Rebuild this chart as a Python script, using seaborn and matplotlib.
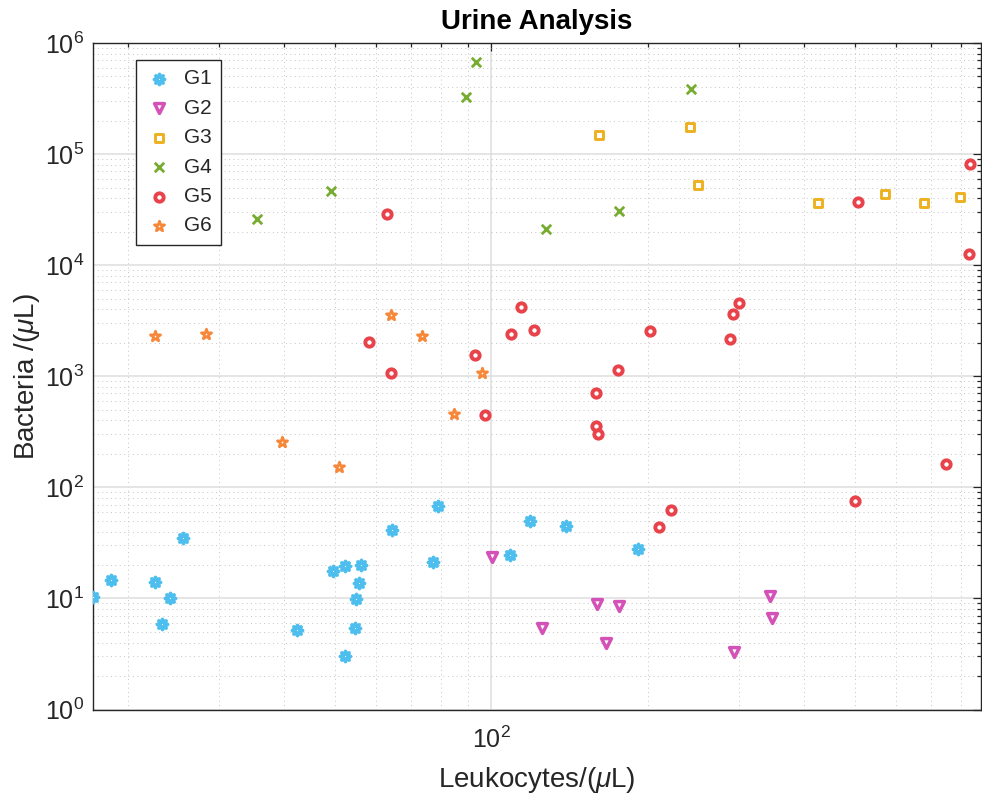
import numpy as np
import pandas as pd
import matplotlib
matplotlib.use("Agg")
import matplotlib.pyplot as plt
import seaborn as sns
from matplotlib.ticker import LogLocator, NullFormatter, LogFormatterSciNotation, FixedLocator

# Leukocyte / bacteria counts per group (cells per microlitre)
g1_leuk = [17.1, 18.6, 22.6, 24.1, 23.3, 25.5, 42.2, 49.5, 52.2, 56.1, 55.7,
           55.0, 54.6, 52.2, 64.5, 77.1, 79.0, 108.6, 118.7, 139.2, 191.4]
g1_bact = [10.2, 14.6, 14.1, 10.1, 5.85, 35.0, 5.16, 17.8, 19.7, 20.0, 13.7,
           9.8, 5.4, 3.0, 41.3, 21.4, 68.4, 24.4, 50.1, 44.9, 28.0]

g2_leuk = [100.2, 125.2, 159.9, 176.2, 166.0, 292.9, 343.0, 346.8]
g2_bact = [23.5, 5.45, 8.9, 8.55, 3.95, 3.3, 10.6, 6.6]

g3_leuk = [161.3, 240.7, 249.7, 424.4, 570.2, 680.4, 797.8]
g3_bact = [147600, 174000, 53100, 36100, 43700, 36100, 41400]

g4_leuk = [35.4, 49.2, 89.4, 93.6, 127.4, 176.2, 242.5]
g4_bact = [25900, 46500, 326700, 670000, 21300, 30500, 388000]

g5_leuk = [63.0, 58.1, 64.0, 93.0, 97.1, 109.3, 113.9, 120.8, 159.2, 159.2,
           160.2, 175.3, 201.8, 210.4, 221.3, 287.4, 291.2, 299.8, 501.0,
           506.5, 748.0, 828.5, 831.8]
g5_bact = [29100, 2030, 1077, 1553, 445, 2400, 4180, 2610, 711, 359,
           300, 1138, 2540, 43.7, 62.5, 2165, 3610, 4540, 75.9,
           36800, 161, 12530, 82000]

g6_leuk = [22.6, 28.3, 39.5, 51.0, 64.0, 73.6, 84.9, 96.1]
g6_bact = [2290, 2420, 258, 153, 3560, 2290, 460, 1077]

groups = ["G1", "G2", "G3", "G4", "G5", "G6"]
leuk = [g1_leuk, g2_leuk, g3_leuk, g4_leuk, g5_leuk, g6_leuk]
bact = [g1_bact, g2_bact, g3_bact, g4_bact, g5_bact, g6_bact]

df = pd.concat(
    [pd.DataFrame({"group": g, "Leukocytes": x, "Bacteria": y})
     for g, x, y in zip(groups, leuk, bact)],
    ignore_index=True,
)

colors = {"G1": "#4DBEEE", "G2": "#D452B8", "G3": "#EDB120",
          "G4": "#77AC30", "G5": "#E8434B", "G6": "#F7883A"}
styles = {
    "G1": dict(marker=(8, 1, 0), s=55, linewidth=2.6),
    "G2": dict(marker="v", s=50, linewidth=2.5),
    "G3": dict(marker="s", s=28, linewidth=2.1),
    "G4": dict(marker="x", s=46, linewidth=2.0),
    "G5": dict(marker="o", s=36, linewidth=2.8),
    "G6": dict(marker="*", s=60, linewidth=1.9),
}

sns.set_theme(style="white")
plt.rcParams["font.family"] = ["Liberation Sans", "DejaVu Sans"]
plt.rcParams["mathtext.fontset"] = "custom"
plt.rcParams["mathtext.rm"] = "Liberation Sans"
plt.rcParams["mathtext.it"] = "Liberation Sans:italic"
plt.rcParams["axes.unicode_minus"] = False

fig = plt.figure(figsize=(9.82, 7.98), dpi=100)
W, H = 982, 798
left, right, top, bottom = 92.5, 981, 43, 709.5
ax = fig.add_axes([left / W, (H - bottom) / H, (right - left) / W, (bottom - top) / H])

for g in groups:
    sub = df[df["group"] == g]
    st = styles[g]
    if g == "G4":
        sns.scatterplot(data=sub, x="Leukocytes", y="Bacteria", ax=ax,
                        color=colors[g], label=g, zorder=3, **st)
    else:
        sns.scatterplot(data=sub, x="Leukocytes", y="Bacteria", ax=ax,
                        facecolor="white", edgecolor=colors[g], label=g,
                        zorder=3, **st)

ax.set_xscale("log")
ax.set_yscale("log")
ax.set_xlim(17.1, 874)
ax.set_ylim(1, 1e6)

ax.xaxis.set_major_locator(FixedLocator([100]))
ax.xaxis.set_minor_locator(FixedLocator([20, 30, 40, 50, 60, 70, 80, 90,
                                         200, 300, 400, 500, 600, 700, 800]))
ax.xaxis.set_major_formatter(LogFormatterSciNotation())
ax.xaxis.set_minor_formatter(NullFormatter())
ax.yaxis.set_major_locator(LogLocator(base=10, numticks=20))
ax.yaxis.set_minor_locator(LogLocator(base=10, subs=np.arange(2, 10), numticks=20))
ax.yaxis.set_minor_formatter(NullFormatter())

ax.grid(which="major", color="#DEDEDE", linewidth=1.1, linestyle="-", zorder=0)
ax.grid(which="minor", color="#C4C4C4", linewidth=0.7, linestyle=(0, (1, 3.5)), zorder=0)
ax.set_axisbelow(True)

ax.tick_params(which="both", direction="in", top=True, right=True,
               color="#262626", width=0.9)
ax.tick_params(which="major", length=5.5, labelsize=18, pad=6, labelcolor="#262626")
ax.tick_params(which="minor", length=3)
ax.tick_params(axis="x", which="major", pad=12)
for sp in ax.spines.values():
    sp.set_color("#262626")
    sp.set_linewidth(1.0)

ax.set_xlabel(r"Leukocytes/($\mu$L)", fontsize=20, color="#262626", labelpad=9)
ax.set_ylabel(r"Bacteria /($\mu$L)", fontsize=20, color="#262626", labelpad=2)
ax.set_title("Urine Analysis", fontsize=20, fontweight="bold", color="black", pad=10)

leg = ax.legend(loc="upper left", bbox_to_anchor=(0.049, 0.9745), borderaxespad=0,
                fontsize=15, frameon=True, fancybox=False, edgecolor="#262626",
                framealpha=1, labelspacing=0.5, handletextpad=0.55,
                handlelength=1.3, borderpad=0.45)
leg.get_frame().set_linewidth(1.0)

fig.savefig("out.png", dpi=100)
